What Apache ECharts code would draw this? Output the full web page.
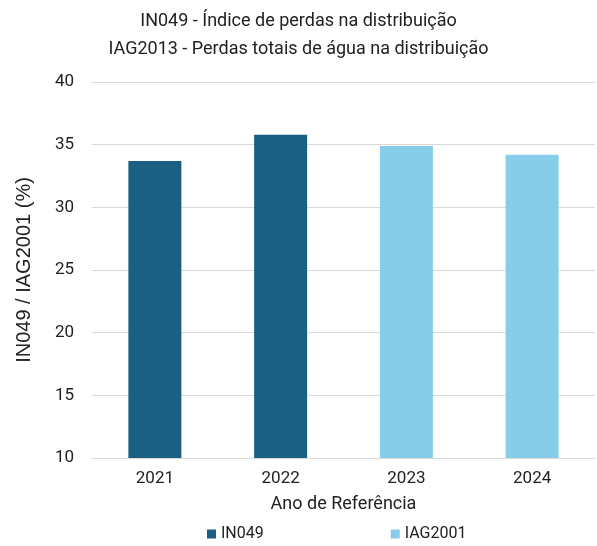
<!DOCTYPE html>
<html><head><meta charset="utf-8">
<script src="https://cdn.jsdelivr.net/npm/echarts@6/dist/echarts.min.js"></script>
<style>html,body{margin:0;padding:0;background:#fff}#c{width:597px;height:546px}</style>
</head><body><div id="c"></div>
<script>
const categories = ['2021', '2022', '2023', '2024'];
const in049 = [33.7, 35.8, null, null];
const iag2001 = [null, null, 34.9, 34.2];
const yTicks = [10, 15, 20, 25, 30, 35, 40];

const narrow = '"Roboto", sans-serif';
const chart = echarts.init(document.getElementById('c'));
chart.setOption({
  animation: false,
  backgroundColor: '#fff',
  title: {
    text: 'IN049 - Índice de perdas na distribuição\nIAG2013 - Perdas totais de água na distribuição',
    left: 'center', top: 2,
    textStyle: { fontFamily: narrow, fontSize: 18, fontWeight: 'normal', color: '#222', lineHeight: 28 }
  },
  legend: {
    bottom: 4, left: 207, padding: 0, itemGap: 127, itemWidth: 9, itemHeight: 9,
    icon: 'rect',
    textStyle: { fontFamily: narrow, fontSize: 16, color: '#222' },
    data: ['IN049', 'IAG2001']
  },
  grid: { left: 92, right: 2, top: 82, bottom: 88 },
  xAxis: {
    type: 'category', data: categories,
    name: 'Ano de Referência', nameLocation: 'middle', nameGap: 37,
    nameTextStyle: { fontFamily: narrow, fontSize: 18, color: '#222' },
    axisLine: { show: true, lineStyle: { color: '#d9d9d9' } },
    axisTick: { show: false },
    axisLabel: { fontFamily: narrow, fontSize: 17, color: '#222', margin: 12 }
  },
  yAxis: {
    type: 'value', min: yTicks[0], max: yTicks[yTicks.length - 1], interval: 5,
    name: 'IN049 / IAG2001 (%)', nameLocation: 'middle', nameGap: 58,
    nameTextStyle: { fontFamily: 'Liberation Sans, Arial, sans-serif', fontSize: 20, color: '#222' },
    axisLine: { show: false }, axisTick: { show: false },
    splitLine: { lineStyle: { color: '#d9d9d9' } },
    axisLabel: { fontFamily: narrow, fontSize: 17, color: '#222', margin: 18 }
  },
  series: [
    { name: 'IN049', type: 'bar', stack: 's', data: in049, barWidth: 53, itemStyle: { color: '#1b5f82' } },
    { name: 'IAG2001', type: 'bar', stack: 's', data: iag2001, barWidth: 53, itemStyle: { color: '#87cde9' } }
  ]
});
</script></body></html>
